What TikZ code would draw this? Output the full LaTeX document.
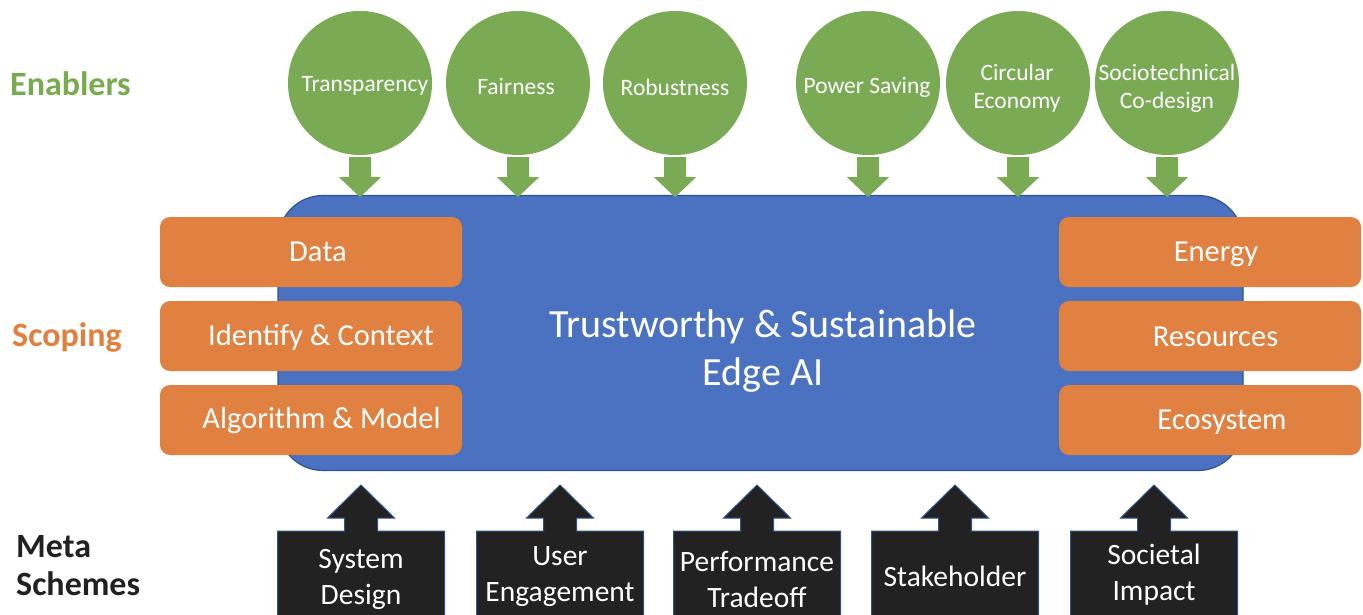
\documentclass[tikz,border=0pt]{standalone}
\usepackage{fontspec}
\setmainfont{Carlito}
\usetikzlibrary{calc}
\definecolor{bluefill}{HTML}{4A72C0}
\definecolor{blueline}{HTML}{2F528F}
\definecolor{greenfill}{HTML}{7AAB54}
\definecolor{orangefill}{HTML}{E08041}
\definecolor{darkfill}{HTML}{222222}
\definecolor{greenlabel}{HTML}{78AB4E}
\definecolor{orangelabel}{HTML}{E07F3E}
\begin{document}
\begin{tikzpicture}[x=1pt,y=-1pt,
  enabler/.style={circle, fill=greenfill, minimum size=144pt, inner sep=0pt},
  enablertext/.style={text=white, font=\fontsize{23.5}{28}\selectfont, align=center, inner sep=0pt},
  scopebox/.style={rounded corners=10pt, fill=orangefill, minimum width=302pt, minimum height=70pt, inner sep=0pt},
  scopetext/.style={text=white, font=\fontsize{30.5}{36}\selectfont},
  metatext/.style={text=white, font=\fontsize{29.5}{36}\selectfont, align=center},
  grouplabel/.style={font=\fontsize{34}{38}\selectfont\bfseries, anchor=west, align=left, inner sep=0pt},
  core/.style={rounded corners=45pt, fill=bluefill, draw=blueline, line width=1.2pt,
    minimum width=965pt, minimum height=275pt, inner sep=0pt},
  greenarrow/.style={fill=greenfill},
  metashape/.style={fill=darkfill, draw=blueline, line width=1pt}
]
\useasboundingbox (0,0) rectangle (1363,614);
\clip (0,0) rectangle (1363,614);

% group labels
\node[grouplabel, text=greenlabel] (lenablers) at (10,84) {Enablers};
\node[grouplabel, text=orangelabel] (lscoping) at (12,337) {Scoping};
\node[grouplabel, text=black!87] (lmeta) at (16,566) {Meta\\Schemes};

% core
\node[core] (core) at (760.5,333) {};
\node[text=white, font=\fontsize{40}{48}\selectfont, align=center] (coretext) at (763,351)
  {Trustworthy \& Sustainable\\Edge AI};

% enablers
\node[enabler] (e1) at (360,83) {};
\node[enabler] (e2) at (518,83) {};
\node[enabler] (e3) at (675,83) {};
\node[enabler] (e4) at (868,83) {};
\node[enabler] (e5) at (1018,83) {};
\node[enabler] (e6) at (1167,83) {};
\node[enablertext] (e1t) at (365,86) {Transparency};
\node[enablertext] (e2t) at (516,86) {Fairness};
\node[enablertext] (e3t) at (675,87) {Robustness};
\node[enablertext] (e4t) at (867,87) {Power Saving};
\node[enablertext] (e5t) at (1017,88) {Circular\\Economy};
\node[enablertext] (e6t) at (1167,88) {Sociotechnical\\Co-design};

\foreach \n in {e1,e2,e3,e4,e5,e6}{
  \fill[greenarrow] ($(\n.south)+(-11,2)$) -- ($(\n.south)+(11,2)$) -- ($(\n.south)+(11,22)$)
    -- ($(\n.south)+(21,22)$) -- ($(\n.south)+(0,42)$) -- ($(\n.south)+(-21,22)$)
    -- ($(\n.south)+(-11,22)$) -- cycle;
}

% scoping boxes
\node[scopebox] (s1) at (311,252) {};
\node[scopebox] (s2) at (311,336) {};
\node[scopebox] (s3) at (311,420) {};
\node[scopebox] (s4) at (1210,252) {};
\node[scopebox] (s5) at (1210,336) {};
\node[scopebox] (s6) at (1210,420) {};
\node[scopetext] (t1) at (318,252) {Data};
\node[scopetext] (t2) at (321,337) {Identify \& Context};
\node[scopetext] (t3) at (321.5,421) {Algorithm \& Model};
\node[scopetext] (t4) at (1216,254) {Energy};
\node[scopetext] (t5) at (1215.5,337) {Resources};
\node[scopetext] (t6) at (1222,422) {Ecosystem};

% meta schemes
\foreach \x/\y/\n/\t in {361/579/m1/{System\\Design}, 560/577/m2/{User\\Engagement},
    757/579/m3/{Performance\\Tradeoff}, 955/576/m4/{Stakeholder}, 1154/575/m5/{Societal\\Impact}}{
  \filldraw[metashape] ({\x-83.5},640) -- ({\x-83.5},531) -- ({\x-16.5},531) -- ({\x-16.5},518)
    -- ({\x-33.5},518) -- (\x,485) -- ({\x+33.5},518) -- ({\x+16.5},518) -- ({\x+16.5},531)
    -- ({\x+83.5},531) -- ({\x+83.5},640) -- cycle;
  \node[metatext] (\n) at (\x,\y) {\t};
}
\end{tikzpicture}
\end{document}
